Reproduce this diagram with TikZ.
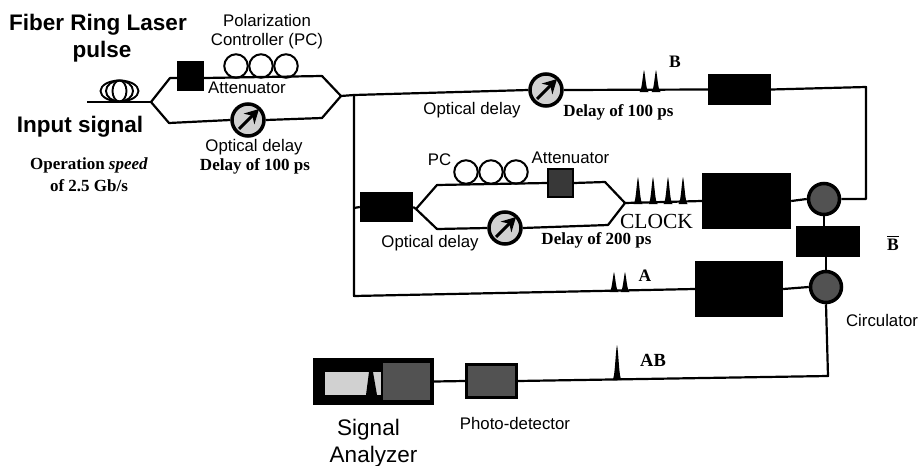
\documentclass[tikz,border=0pt]{standalone}
\usepackage{fontspec}
\usepackage{amsmath}
\usetikzlibrary{arrows.meta}
\setmainfont{Liberation Serif}
\setsansfont{Liberation Sans}
\tikzset{
	fiber/.style = {line width = 2.2pt, line join = round},
	lbl/.style = {inner sep = 0pt, font = \sffamily\fontsize{16.8}{17}\selectfont},
	lblbig/.style = {inner sep = 0pt, font = \sffamily\bfseries\fontsize{22.5}{23}\selectfont},
	lblreg/.style = {inner sep = 0pt, font = \sffamily\fontsize{22.5}{23}\selectfont},
	dly/.style = {inner sep = 0pt, font = \bfseries\fontsize{17}{17}\selectfont},
	tag/.style = {inner sep = 0pt, font = \bfseries\fontsize{17.5}{18}\selectfont},
	blackbox/.style = {fill = black, inner sep = 0pt},
	greybox/.style = {fill = black!68, draw = black, line width = 3pt, inner sep = 0pt},
	loopc/.style = {circle, draw = black, line width = 2pt, fill = white, minimum size = 23.5pt, inner sep = 0pt},
	dial/.style = {circle, draw = black, line width = 3.5pt, fill = black!18, minimum size = 32pt, inner sep = 0pt},
	circulator/.style = {circle, draw = black, line width = 3.5pt, fill = black!68, minimum size = 31pt, inner sep = 0pt},
}
\newcommand{\Pulse}[3]{\fill (#1-4.5,#2) .. controls (#1-2,#2-2) and (#1-1.5,#2-#3+6) .. (#1,#2-#3) .. controls (#1+1.5,#2-#3+6) and (#1+2,#2-2) .. (#1+4.5,#2) -- cycle;}
\newcommand{\DialArrow}[1]{\draw[line width = 3pt, -{Stealth[length = 14pt, width = 15pt]}] (#1.center) ++(-9,9) -- ++(20,-20);}
\begin{document}
\begin{tikzpicture}[x = 1pt, y = -1pt]
	\useasboundingbox (0,0) rectangle (919,466);

	\coordinate (in) at (87,102);
	\coordinate (split1) at (151,102);
	\coordinate (up1) at (170,78);
	\coordinate (upr1) at (322,76);
	\coordinate (low1) at (169,123);
	\coordinate (lowr1) at (322,118);
	\coordinate (join1) at (341,96);
	\coordinate (tee) at (354,95);
	\coordinate (teeb) at (354,208);
	\coordinate (corner) at (354,296);
	\coordinate (topr) at (866,87);
	\coordinate (topd) at (866,199);
	\coordinate (split2) at (416,209);
	\coordinate (up2) at (437,185);
	\coordinate (upr2) at (605,182);
	\coordinate (low2) at (437,229);
	\coordinate (lowr2) at (608,225);
	\coordinate (join2) at (625,203);
	\coordinate (botr) at (828,376);

	\node[blackbox, minimum width = 27pt, minimum height = 30pt] (att1) at (190.5,76) {};
	\node[loopc] (pc1a) at (236,66) {};
	\node[loopc] (pc1b) at (261,66) {};
	\node[loopc] (pc1c) at (286,66) {};
	\node[dial] (delay1) at (248,120) {};
	\node[dial] (delay2) at (546,90) {};
	\node[blackbox, minimum width = 63pt, minimum height = 31pt] (sw1) at (739.5,89.5) {};
	\node[blackbox, minimum width = 53pt, minimum height = 30pt] (sw2) at (386.5,207) {};
	\node[loopc] (pc2a) at (466,172) {};
	\node[loopc] (pc2b) at (491,172) {};
	\node[loopc] (pc2c) at (516,172) {};
	\node[greybox, fill = black!78, line width = 2pt, minimum width = 25pt, minimum height = 28pt] (att2) at (560.5,183) {};
	\node[dial] (delay3) at (505,228) {};
	\node[blackbox, minimum width = 89pt, minimum height = 56pt] (soa1) at (746.5,201) {};
	\node[circulator] (circ1) at (824,199) {};
	\node[blackbox, minimum width = 64pt, minimum height = 31pt] (inv) at (828,241.5) {};
	\node[circulator] (circ2) at (826,287) {};
	\node[blackbox, minimum width = 88pt, minimum height = 56pt] (soa2) at (739,289) {};
	\node[greybox, minimum width = 50pt, minimum height = 33pt] (pd) at (491.5,381) {};
	\node[blackbox, minimum width = 121pt, minimum height = 47pt] (sa) at (373.5,381.5) {};
	\node[fill = black!18, inner sep = 0pt, minimum width = 56pt, minimum height = 23pt] (screen) at (353,383.5) {};
	\node[fill = black!68, inner sep = 0pt, minimum width = 47pt, minimum height = 37pt] (panel) at (406.5,381.5) {};

	\draw[fiber] (in) -- (split1);
	\draw[fiber] (split1) -- (up1) -- (att1.west |- up1);
	\draw[fiber] (att1.east |- up1) -- (upr1) -- (join1);
	\draw[fiber] (split1) -- (low1) -- (delay1.west);
	\draw[fiber] (delay1.east) -- (lowr1) -- (join1);
	\draw[fiber] (join1) -- (tee) -- (delay2.west);
	\draw[fiber] (delay2.east) -- (sw1.west);
	\draw[fiber] (sw1.east) -- (topr) -- (topd) -- (circ1.east);
	\draw[fiber] (tee) -- (teeb) -- (corner) -- (soa2.west);
	\draw[fiber] (teeb) -- (sw2.west);
	\draw[fiber] (sw2.east) -- (split2);
	\draw[fiber] (split2) -- (up2) -- (att2.west);
	\draw[fiber] (att2.east) -- (upr2) -- (join2);
	\draw[fiber] (split2) -- (low2) -- (delay3.west);
	\draw[fiber] (delay3.east) -- (lowr2) -- (join2);
	\draw[fiber] (join2) -- (soa1.west);
	\draw[fiber] (soa1.east) -- (circ1.west);
	\draw[fiber] (circ1.south) -- (circ1.south |- inv.north);
	\draw[fiber] (circ2.north |- inv.south) -- (circ2.north);
	\draw[fiber] (soa2.east) -- (circ2.west);
	\draw[fiber] (circ2.south) -- (botr) -- (pd.east);
	\draw[fiber] (pd.west) -- (sa.east);

	\draw[line width = 1.9pt] (119.5,91) ellipse (19 and 10.5);
	\draw[line width = 1.9pt] (119.5,91) ellipse (13.5 and 10.5);
	\draw[line width = 1.9pt] (119.5,91) ellipse (7 and 10.5);

	\DialArrow{delay1}
	\DialArrow{delay2}
	\DialArrow{delay3}

	\Pulse{644}{92}{22}
	\Pulse{656}{92}{22}
	\Pulse{638}{204}{27}
	\Pulse{653}{204}{27}
	\Pulse{668}{204}{27}
	\Pulse{683}{204}{27}
	\Pulse{614}{292}{20}
	\Pulse{625}{292}{20}
	\Pulse{617}{380}{35}
	\fill[black] (366,395) -- (369,372) -- (373,372) -- (377,395) -- cycle;

	\node[lblbig] (fiberlabel) at (98,25) {Fiber Ring Laser};
	\node[lblbig] (pulselabel) at (102,52) {pulse};
	\node[lblbig] (inputlabel) at (80,127) {Input signal};
	\node[lbl] (pol) at (267,20) {Polarization};
	\node[lbl] (ctrl) at (267,41) {Controller (PC)};
	\node[lbl] (attlabel1) at (247,88) {Attenuator};
	\node[lbl] (odlabel1) at (254,147) {Optical delay};
	\node[dly] (dllabel1) at (255,166) {Delay of 100 ps};
	\node[dly] (speed1) at (89,165) {Operation \textit{speed}};
	\node[dly] (speed2) at (89,186) {of 2.5 Gb/s};
	\node[lbl] (odlabel2) at (472,110) {Optical delay};
	\node[dly] (dllabel2) at (618.5,112) {Delay of 100 ps};
	\node[tag] (blabel) at (675,62) {B};
	\node[lbl] (pclabel) at (439.5,160) {PC};
	\node[lbl] (attlabel2) at (570.5,158) {Attenuator};
	\node[inner sep = 0pt, font = \fontsize{21.5}{22}\selectfont] (clock) at (656.5,221) {CLOCK};
	\node[dly] (dllabel3) at (596.5,240) {Delay of 200 ps};
	\node[lbl] (odlabel3) at (430,243) {Optical delay};
	\node[tag] (bbar) at (893,243) {$\overline{\mbox{\textbf{B}}}$};
	\node[tag] (alabel) at (645,276) {A};
	\node[lbl] (circlabel) at (882,320) {Circulator};
	\node[tag, font = \bfseries\fontsize{18.5}{19}\selectfont] (ablabel) at (653,360) {AB};
	\node[lbl] (pdlabel) at (515,423) {Photo-detector};
	\node[lblreg] (salabel1) at (368.5,430) {Signal};
	\node[lblreg] (salabel2) at (373.5,457) {Analyzer};
\end{tikzpicture}
\end{document}
